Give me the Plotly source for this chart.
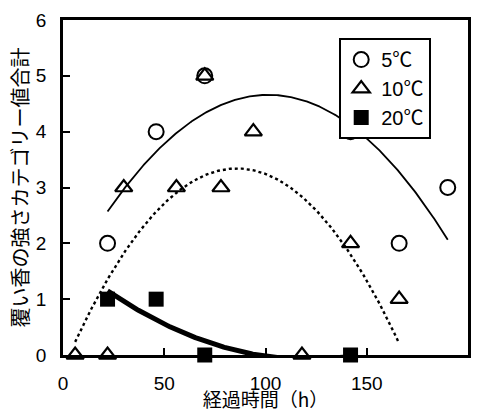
import numpy as np
import plotly.graph_objects as go

# Data (hours, category totals)
x5 = [22, 46, 70, 142, 166, 190]
y5 = [2, 4, 5, 4, 2, 3]
x10 = [6, 22, 30, 56, 70, 78, 94, 118, 142, 166]
y10 = [0, 0, 3, 3, 5, 3, 4, 0, 2, 1]
x20 = [22, 46, 70, 142]
y20 = [1, 1, 0, 0]

x_ticks = [0, 50, 100, 150, 200]
y_ticks = [0, 1, 2, 3, 4, 5, 6]

names = ["5℃", "10℃", "20℃"]

def trend(xs, ys):
    c = np.polyfit(xs, ys, 2)
    xx = np.linspace(min(xs), max(xs), 300)
    return xx, np.polyval(c, xx)

fig = go.Figure()

# Trendlines (2nd-order polynomial fits)
tx, ty = trend(x5, y5)
fig.add_trace(go.Scatter(x=tx, y=ty, mode="lines", line=dict(color="black", width=1.8),
                         showlegend=False, hoverinfo="skip"))
tx, ty = trend(x10, y10)
fig.add_trace(go.Scatter(x=tx, y=ty, mode="lines", line=dict(color="black", width=2.4, dash="dot"),
                         showlegend=False, hoverinfo="skip"))
tx, ty = trend(x20, y20)
fig.add_trace(go.Scatter(x=tx, y=ty, mode="lines", line=dict(color="black", width=5),
                         showlegend=False, hoverinfo="skip"))

# Markers
fig.add_trace(go.Scatter(x=x5, y=y5, mode="markers", name=names[0], legendgroup="a",
                         marker=dict(symbol="circle-open", size=15, color="black", line=dict(width=2)),
                         cliponaxis=False))
fig.add_trace(go.Scatter(x=x10, y=y10, mode="markers", name=names[1], legendgroup="b",
                         marker=dict(symbol="triangle-up-open", size=15, color="black", line=dict(width=2.2)),
                         cliponaxis=False))
fig.add_trace(go.Scatter(x=x20, y=y20, mode="markers", name=names[2], legendgroup="c",
                         marker=dict(symbol="square", size=15, color="black"),
                         cliponaxis=False))

tick_font = dict(family="Liberation Sans, Arial, sans-serif", size=19, color="black")

fig.update_layout(
    width=480, height=412,
    margin=dict(l=63, r=12, t=20, b=57),
    paper_bgcolor="white", plot_bgcolor="white",
    showlegend=True,
    legend=dict(x=0.682, y=0.946, xanchor="left", yanchor="top",
                bordercolor="black", borderwidth=2, bgcolor="white",
                font=dict(family="Liberation Sans, Noto Sans CJK JP, sans-serif", size=20, color="black"),
                tracegroupgap=0, itemwidth=30),
    xaxis=dict(range=[0, 200], tickvals=x_ticks, ticks="inside", ticklen=7, tickwidth=2,
               tickcolor="black", showline=True, linecolor="black", linewidth=2.5, mirror=True,
               showgrid=False, zeroline=False, tickfont=tick_font, ticklabelstandoff=9,
               automargin=False,
               title=dict(text="経過時間（h）",
                          font=dict(family="Noto Sans CJK JP, sans-serif", size=19, color="black"),
                          standoff=6)),
    yaxis=dict(range=[0, 6], tickvals=y_ticks, ticks="inside", ticklen=7, tickwidth=2,
               tickcolor="black", showline=True, linecolor="black", linewidth=2.5, mirror=True,
               showgrid=False, zeroline=False, tickfont=tick_font, ticklabelstandoff=10,
               automargin=False,
               title=dict(text="覆い香の強さカテゴリー値合計",
                          font=dict(family="Noto Sans CJK JP, sans-serif", size=20, color="black"),
                          standoff=2)),
)

fig.write_html("out.html", config={"displayModeBar": False},
               post_script="document.body.style.margin='0px';")
